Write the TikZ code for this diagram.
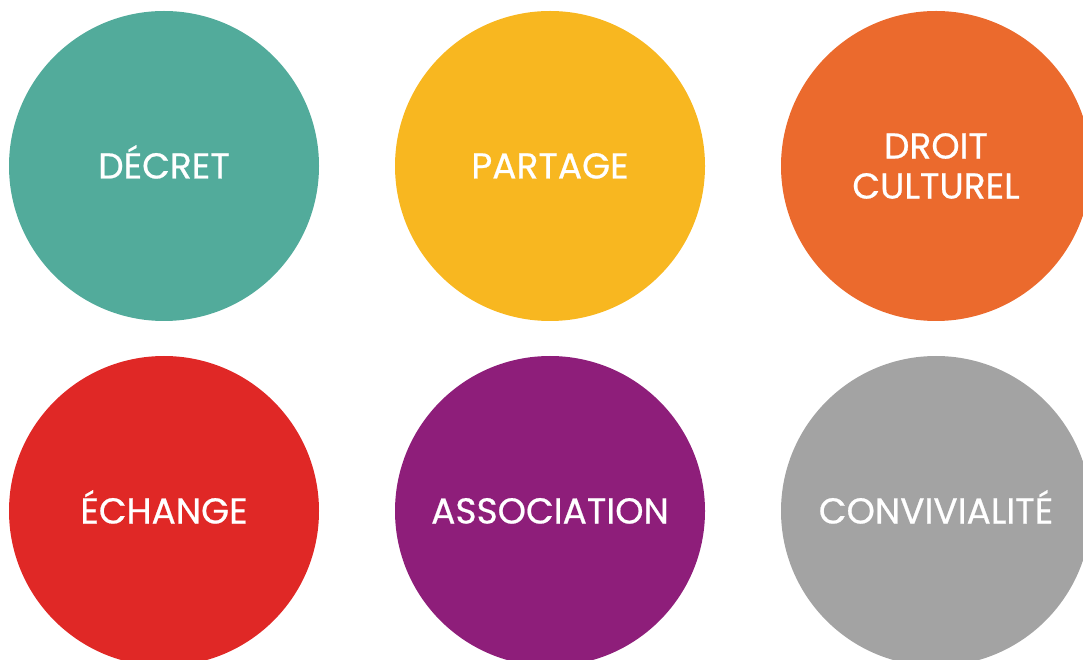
\documentclass[tikz,border=0pt]{standalone}
\usepackage{fontspec}
\setmainfont{Poppins}
\newfontfamily\bubblefont{Poppins}[FakeBold=0.6]
\definecolor{cteal}{HTML}{52AB9B}
\definecolor{cyellow}{HTML}{F8B720}
\definecolor{corange}{HTML}{EB6A2D}
\definecolor{cred}{HTML}{E02826}
\definecolor{cpurple}{HTML}{8E1E7A}
\definecolor{cgrey}{HTML}{A3A3A3}
\begin{document}
\begin{tikzpicture}[x=1pt,y=1pt,
  bubble/.style={circle,minimum size=310pt,inner sep=0pt},
  label/.style={text=white,align=center,inner sep=0pt,
    font=\bubblefont\fontsize{36}{40}\selectfont},
  oneline/.style={label,text height=25pt,text depth=0pt}]
\useasboundingbox (0,0) rectangle (1083,659);
\clip (0,0) rectangle (1083,659);
\node[bubble,fill=cteal]   (decret) at (164,493) {};
\node[bubble,fill=cyellow] (partage) at (550,493) {};
\node[bubble,fill=corange] (droit) at (936,493) {};
\node[bubble,fill=cred]    (echange) at (164,148) {};
\node[bubble,fill=cpurple] (asso) at (550,148) {};
\node[bubble,fill=cgrey]   (convi) at (936,148) {};
\node[oneline] (t1) at (decret) {DÉCRET};
\node[oneline] (t2) at (partage) {PARTAGE};
\node[label] (t3) at (droit) {DROIT\\CULTUREL};
\node[oneline] (t4) at (echange) {ÉCHANGE};
\node[oneline] (t5) at (asso) {ASSOCIATION};
\node[oneline] (t6) at (convi) {CONVIVIALITÉ};
\end{tikzpicture}
\end{document}
